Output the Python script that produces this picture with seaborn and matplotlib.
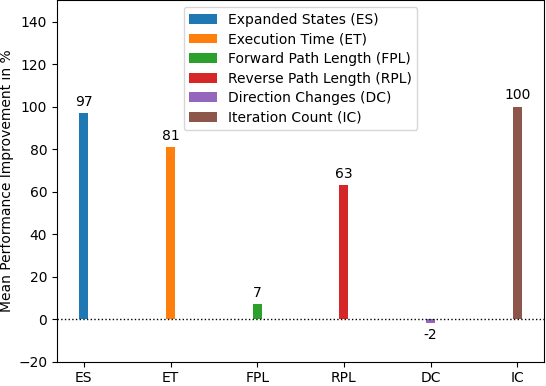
import matplotlib
matplotlib.use('Agg')
import matplotlib.pyplot as plt
import seaborn as sns
import pandas as pd

short_names = ['ES', 'ET', 'FPL', 'RPL', 'DC', 'IC']
long_names = ['Expanded States (ES)', 'Execution Time (ET)', 'Forward Path Length (FPL)',
              'Reverse Path Length (RPL)', 'Direction Changes (DC)', 'Iteration Count (IC)']
improvement = [97, 81, 7, 63, -2, 100]

df = pd.DataFrame({'Metric': short_names, 'Name': long_names, 'Value': improvement})

fig = plt.figure(figsize=(5.46, 3.86), dpi=100)
ax = fig.add_axes([0.1044, 0.063, 0.892, 0.936])

sns.barplot(data=df, x='Metric', y='Value', hue='Name', palette='tab10',
            dodge=False, width=0.104, saturation=1, ax=ax)

ax.axhline(0, color='black', linestyle=':', linewidth=1)
for container in ax.containers:
    ax.bar_label(container, fmt='%d', padding=3, fontsize=10)

ax.set_xlim(-0.31, 5.31)
ax.set_ylim(-20, 150)
ax.set_yticks(range(-20, 141, 20))
ax.set_xlabel('')
ax.set_ylabel('Mean Performance Improvement in %', fontsize=10)
ax.yaxis.set_label_coords(-0.088, 0.5)
ax.legend(loc='upper center', fontsize=10, title=None, labelspacing=0.4)

fig.savefig('out.png', dpi=100)
